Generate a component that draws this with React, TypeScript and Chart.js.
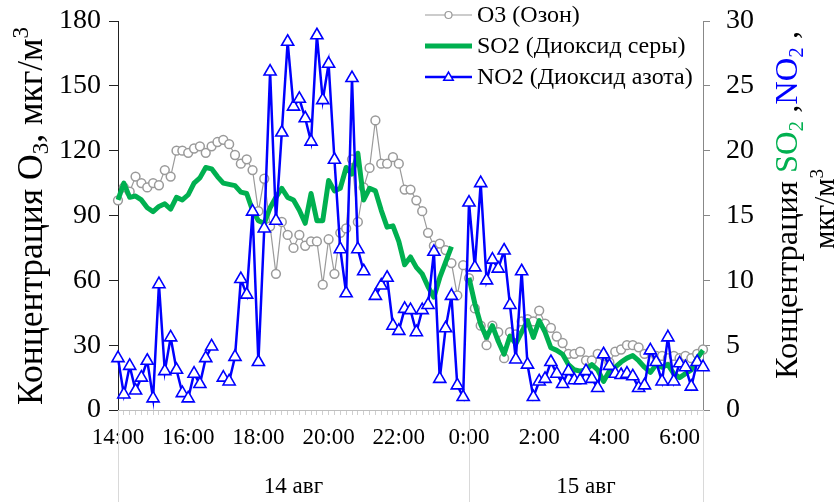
import React, { useEffect, useRef } from 'react';
import { Chart, registerables } from 'chart.js';

Chart.register(...registerables);

// 10-minute time stamps, 14 Aug 14:00 to 15 Aug 6:40
const timeLabels: string[] = [
  '14:00','14:10','14:20','14:30','14:40','14:50',
  '15:00','15:10','15:20','15:30','15:40','15:50',
  '16:00','16:10','16:20','16:30','16:40','16:50',
  '17:00','17:10','17:20','17:30','17:40','17:50',
  '18:00','18:10','18:20','18:30','18:40','18:50',
  '19:00','19:10','19:20','19:30','19:40','19:50',
  '20:00','20:10','20:20','20:30','20:40','20:50',
  '21:00','21:10','21:20','21:30','21:40','21:50',
  '22:00','22:10','22:20','22:30','22:40','22:50',
  '23:00','23:10','23:20','23:30','23:40','23:50',
  '0:00','0:10','0:20','0:30','0:40','0:50',
  '1:00','1:10','1:20','1:30','1:40','1:50',
  '2:00','2:10','2:20','2:30','2:40','2:50',
  '3:00','3:10','3:20','3:30','3:40','3:50',
  '4:00','4:10','4:20','4:30','4:40','4:50',
  '5:00','5:10','5:20','5:30','5:40','5:50',
  '6:00','6:10','6:20','6:30','6:40',
];

const xTickLabels: string[] = ['14:00','16:00','18:00','20:00','22:00','0:00','2:00','4:00','6:00'];

const dayLabels: string[] = ['14 авг', '15 авг'];
const dayStartLabels: string[] = ['14:00', '0:00'];

// O3, µg/m3 (left axis)
const o3: (number | null)[] = [
  97, 103, 101, 108, 105, 103, 105, 104, 111, 108,
  120, 120, 119, 121, 122, 119, 122, 124, 125, 123,
  118, 114, 116, 111, 92, 107, 85, 63, 87, 81,
  75, 81, 76, 78, 78, 58, 79, 63, 82, 84,
  116, 87, 103, 112, 134, 114, 114, 117, 114, 102,
  102, 97, 92, 82, 76, 77, 74, 68, 53, 67,
  61, 47, 39, 30, 39, 36, 24, 36, 35, 41,
  42, 41, 46, 40, 38, 34, 31, 26, 26, 27,
  23, 23, 26, 25, 22, 27, 28, 30, 30, 29,
  26, 27, 25, 25, 24, 25, 24, 25, 24, 26, 28,
];

// SO2, µg/m3 (right axis)
const so2: (number | null)[] = [
  16.2, 17.5, 16.4, 16.5, 16.2, 15.6, 15.3, 15.7, 15.9, 15.5,
  16.4, 16.2, 16.6, 17.5, 17.9, 18.7, 18.6, 18.0, 17.5, 17.4,
  17.3, 16.8, 16.7, 15.4, 14.6, 14.4, 15.6, 16.4, 17.1, 16.4,
  16.2, 15.4, 14.4, 16.7, 14.6, 14.6, 17.7, 16.9, 17.1, 18.7,
  18.2, 19.8, 16.2, 17.1, 16.9, 15.4, 14.1, 14.2, 13.0, 11.2,
  11.8, 11.0, 10.5, 9.5, 8.7, 10.2, 11.4, 12.6, null, null,
  10.2, 8.2, 6.6, 5.6, 6.5, 5.3, 4.3, 5.7, 5.1, 6.0,
  6.9, 5.6, 6.9, 6.0, 4.8, 4.6, 4.3, 3.5, 3.1, 3.0,
  3.1, 3.5, 3.1, 2.2, 3.0, 3.3, 3.7, 4.0, 4.2, 3.8,
  3.3, 2.9, 3.5, 3.3, 3.5, 2.8, 2.5, 2.8, 3.1, 4.0, 4.6,
];

// NO2, µg/m3 (right axis)
const no2: (number | null)[] = [
  4.0, 1.2, 3.4, 1.5, 2.5, 3.8, 0.9, 9.7, 3.0, 5.6,
  3.1, 1.3, 0.9, 2.8, 2.0, 4.0, 4.9, null, 2.5, 2.2,
  4.1, 10.1, 8.9, 15.3, 3.7, 14.0, 26.1, 14.6, 21.4, 28.4,
  23.4, 24.0, 22.5, 20.7, 28.9, 23.9, 26.7, 19.3, 12.4, 9.0,
  25.6, 12.4, 10.7, null, 8.8, 9.6, 10.2, 6.5, 6.1, 7.8,
  7.7, 6.0, 7.7, 8.1, 12.2, 2.4, 6.3, 8.8, 1.9, 1.0,
  16.0, 11.0, 17.5, 10.0, 11.6, 10.9, 12.3, 8.1, 3.9, 10.7,
  3.5, 1.0, 2.2, 2.4, 3.7, 2.8, 2.0, 3.0, 2.3, 2.3,
  3.0, 2.4, 1.7, 4.3, 3.4, 2.8, 2.7, 2.8, 2.6, 1.7,
  1.9, 4.6, 3.7, 2.2, 5.6, 2.2, 3.6, 3.3, 1.8, 3.7, 3.3,
];

const seriesNames: string[] = ['O3 (Озон)', 'SO2 (Диоксид серы)', 'NO2 (Диоксид азота)'];

const FONT = '"Liberation Serif", "Times New Roman", serif';
const GREY = '#9a9a9a';
const GREEN = '#00b050';
const BLUE = '#0000ff';

type Run = { text: string; color?: string; sub?: boolean; sup?: boolean };

function drawRich(ctx: CanvasRenderingContext2D, runs: Run[], cx: number, cy: number, angle: number, size: number) {
  ctx.save();
  ctx.translate(cx, cy);
  ctx.rotate(angle);
  ctx.textBaseline = 'alphabetic';
  ctx.textAlign = 'left';
  const fontFor = (r: Run) => `${r.sub || r.sup ? Math.round(size * 0.65) : size}px ${FONT}`;
  let total = 0;
  for (const r of runs) {
    ctx.font = fontFor(r);
    total += ctx.measureText(r.text).width;
  }
  let x = -total / 2;
  const base = size * 0.33;
  for (const r of runs) {
    ctx.font = fontFor(r);
    ctx.fillStyle = r.color || '#000';
    let dy = 0;
    if (r.sub) dy = size * 0.18;
    if (r.sup) dy = -size * 0.38;
    ctx.fillText(r.text, x, base + dy);
    x += ctx.measureText(r.text).width;
  }
  ctx.restore();
}

function drawTriangle(ctx: CanvasRenderingContext2D, x: number, y: number, r: number) {
  ctx.beginPath();
  for (let k = 0; k < 3; k++) {
    const a = (k * 2 * Math.PI) / 3;
    const px = x + Math.sin(a) * r;
    const py = y - Math.cos(a) * r;
    if (k === 0) ctx.moveTo(px, py);
    else ctx.lineTo(px, py);
  }
  ctx.closePath();
}

const decorPlugin = {
  id: 'decor',
  afterDraw(chart: any) {
    const ctx: CanvasRenderingContext2D = chart.ctx;
    const xs = chart.scales.x;
    const area = chart.chartArea;
    const H = chart.height;

    // day group separators and labels
    ctx.save();
    ctx.strokeStyle = '#d9d9d9';
    ctx.lineWidth = 1;
    const starts = dayStartLabels.map((l) => xs.getPixelForValue(timeLabels.indexOf(l)));
    const bounds = [...starts, area.right];
    for (const bx of bounds) {
      ctx.beginPath();
      ctx.moveTo(Math.round(bx) + 0.5, area.bottom);
      ctx.lineTo(Math.round(bx) + 0.5, H);
      ctx.stroke();
    }
    ctx.fillStyle = '#000';
    ctx.font = `23px ${FONT}`;
    ctx.textAlign = 'center';
    ctx.textBaseline = 'middle';
    for (let i = 0; i < dayLabels.length; i++) {
      ctx.fillText(dayLabels[i], (bounds[i] + bounds[i + 1]) / 2, 487);
    }
    ctx.restore();

    // axis titles
    drawRich(ctx, [
      { text: 'Концентрация O' },
      { text: '3', sub: true },
      { text: ', мкг/м' },
      { text: '3', sup: true },
    ], 30, 216, -Math.PI / 2, 35.5);

    drawRich(ctx, [
      { text: 'Концентрация ' },
      { text: 'SO', color: GREEN },
      { text: '2', color: GREEN, sub: true },
      { text: ' ,' },
      { text: 'NO', color: BLUE },
      { text: '2', color: BLUE, sub: true },
      { text: ' ,' },
    ], 786, 205, -Math.PI / 2, 32.5);

    drawRich(ctx, [
      { text: 'мкг/м' },
      { text: '3', sup: true },
    ], 824, 209, -Math.PI / 2, 29);

    // legend
    ctx.save();
    const lx0 = 425, lx1 = 472, tx = 477;
    const rows = [15, 46, 77];
    ctx.font = `24px ${FONT}`;
    ctx.textAlign = 'left';
    ctx.textBaseline = 'middle';
    // O3
    ctx.strokeStyle = GREY; ctx.lineWidth = 1.2;
    ctx.beginPath(); ctx.moveTo(lx0, rows[0]); ctx.lineTo(lx1, rows[0]); ctx.stroke();
    ctx.fillStyle = '#fff';
    ctx.beginPath(); ctx.arc((lx0 + lx1) / 2, rows[0], 3.5, 0, Math.PI * 2); ctx.fill(); ctx.stroke();
    // SO2
    ctx.strokeStyle = GREEN; ctx.lineWidth = 5;
    ctx.beginPath(); ctx.moveTo(lx0, rows[1]); ctx.lineTo(lx1, rows[1]); ctx.stroke();
    // NO2
    ctx.strokeStyle = BLUE; ctx.lineWidth = 2.5;
    ctx.beginPath(); ctx.moveTo(lx0, rows[2]); ctx.lineTo(lx1, rows[2]); ctx.stroke();
    ctx.lineWidth = 1.5; ctx.fillStyle = '#fff';
    drawTriangle(ctx, (lx0 + lx1) / 2, rows[2] + 0.5, 5.5); ctx.fill(); ctx.stroke();
    ctx.fillStyle = '#000';
    seriesNames.forEach((n, i) => ctx.fillText(n, tx, rows[i] + 1));
    ctx.restore();
  },
};

const zeroPad = (s: any) => {
  s.paddingTop = 0;
  s.paddingBottom = 0;
};

export default function App() {
  const ref = useRef<HTMLCanvasElement | null>(null);

  useEffect(() => {
    if (!ref.current) return;
    const chart = new Chart(ref.current, {
      type: 'line',
      data: {
        labels: timeLabels,
        datasets: [
          {
            label: seriesNames[2], data: no2, yAxisID: 'y2', order: 1,
            borderColor: BLUE, borderWidth: 2.5, tension: 0, spanGaps: false,
            pointStyle: 'triangle', pointRadius: 7, pointBackgroundColor: '#fff',
            pointBorderColor: BLUE, pointBorderWidth: 1.6,
          },
          {
            label: seriesNames[1], data: so2, yAxisID: 'y2', order: 2,
            borderColor: GREEN, borderWidth: 5, tension: 0, spanGaps: false,
            pointRadius: 0, borderJoinStyle: 'round',
          },
          {
            label: seriesNames[0], data: o3, yAxisID: 'y', order: 3,
            borderColor: GREY, borderWidth: 1.2, tension: 0,
            pointStyle: 'circle', pointRadius: 4.4, pointBackgroundColor: '#fff',
            pointBorderColor: GREY, pointBorderWidth: 1.5,
          },
        ],
      },
      options: {
        responsive: false,
        animation: false,
        events: [],
        layout: { padding: { top: 21, left: 8, right: 0, bottom: 0 } },
        plugins: { legend: { display: false }, tooltip: { enabled: false } },
        scales: {
          x: {
            type: 'category',
            offset: false,
            grid: { display: true, drawOnChartArea: false, drawTicks: true, tickLength: 5, color: '#cfcfcf' },
            border: { display: true, color: '#bfbfbf' },
            ticks: {
              autoSkip: false, maxRotation: 0, minRotation: 0, padding: 9, color: '#000',
              font: { family: FONT, size: 23 },
              callback: (_v: any, i: number) => (xTickLabels.includes(timeLabels[i]) ? timeLabels[i] : ''),
            },
            afterFit: (s: any) => { s.height = 92; s.paddingLeft = 0; s.paddingRight = 0; },
          },
          y: {
            position: 'left', min: 0, max: 180,
            grid: { display: true, drawOnChartArea: false, drawTicks: true, tickLength: 9, color: '#222' },
            border: { display: true, color: '#222' },
            ticks: { stepSize: 30, padding: 8, color: '#000', font: { family: FONT, size: 28 } },
            afterFit: (s: any) => { s.width = 110; zeroPad(s); },
          },
          y2: {
            position: 'right', min: 0, max: 30,
            grid: { display: true, drawOnChartArea: false, drawTicks: true, tickLength: 7, color: '#888' },
            border: { display: true, color: '#888' },
            ticks: { stepSize: 5, padding: 16, color: '#000', font: { family: FONT, size: 28 } },
            afterFit: (s: any) => { s.width = 133; zeroPad(s); },
          },
        },
      },
      plugins: [decorPlugin],
    });
    return () => chart.destroy();
  }, []);

  return (
    <div style={{ position: 'fixed', left: 0, top: 0, width: 836, height: 502, background: '#fff' }}>
      <canvas ref={ref} width={836} height={502} style={{ width: 836, height: 502, display: 'block' }} />
    </div>
  );
}
